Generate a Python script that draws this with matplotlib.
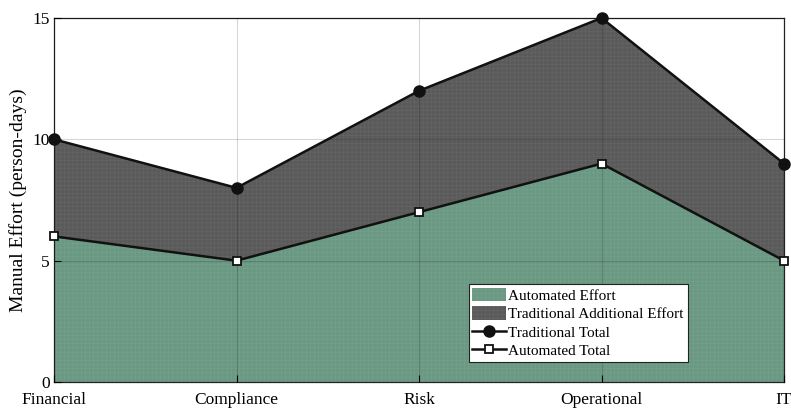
import numpy as np
import matplotlib.pyplot as plt

plt.rcParams['font.family'] = ['Liberation Serif', 'DejaVu Serif']
plt.rcParams['hatch.linewidth'] = 0.3

departments = ['Financial', 'Compliance', 'Risk', 'Operational', 'IT']
automated = [6, 5, 7, 9, 5]
traditional = [10, 8, 12, 15, 9]

x = np.arange(len(departments))
extra = np.array(traditional) - np.array(automated)

fig = plt.figure(figsize=(7.91, 4.08), dpi=100)
ax = fig.add_axes([54 / 791, 26 / 408, 730 / 791, 364 / 408])

# stacked areas, with a faint fine texture on each
fills = ax.stackplot(x, automated, extra,
                     colors=['#6a9883', '#5a5a5a'],
                     labels=['Automated Effort', 'Traditional Additional Effort'],
                     linewidth=0, hatch='++++')
fills[0].set_edgecolor('#79a590')
fills[1].set_edgecolor('#6a6a6a')

ax.plot(x, traditional, '-o', color='#111111', lw=1.8, ms=8,
        mfc='#111111', mec='#111111', label='Traditional Total', clip_on=False, zorder=5)
ax.plot(x, automated, '-s', color='#111111', lw=1.8, ms=5.5,
        mfc='white', mec='#111111', mew=1.3, label='Automated Total', clip_on=False, zorder=5)

ax.set_xlim(0, len(departments) - 1)
ax.set_ylim(0, 15)
ax.set_xticks(x)
ax.set_xticklabels(departments)
ax.set_yticks([0, 5, 10, 15])
ax.tick_params(direction='in', labelsize=12.5, length=5, width=0.8, pad=3,
               top=False, right=False)
ax.tick_params(axis='x', pad=7)
ax.set_ylabel('Manual Effort (person-days)', fontsize=14, labelpad=4)

ax.set_axisbelow(False)
ax.grid(True, color='black', alpha=0.16, lw=0.8)
for s in ax.spines.values():
    s.set_color('#222222')
    s.set_linewidth(0.9)

leg = ax.legend(loc='lower left', bbox_to_anchor=(0.568, 0.055), fontsize=11,
                frameon=True, fancybox=False, edgecolor='#222222', framealpha=1,
                borderpad=0.25, labelspacing=0.22, handlelength=2.2,
                handleheight=1.0, handletextpad=0.15, borderaxespad=0)
leg.get_frame().set_linewidth(0.8)

fig.savefig('out.png', dpi=100)
